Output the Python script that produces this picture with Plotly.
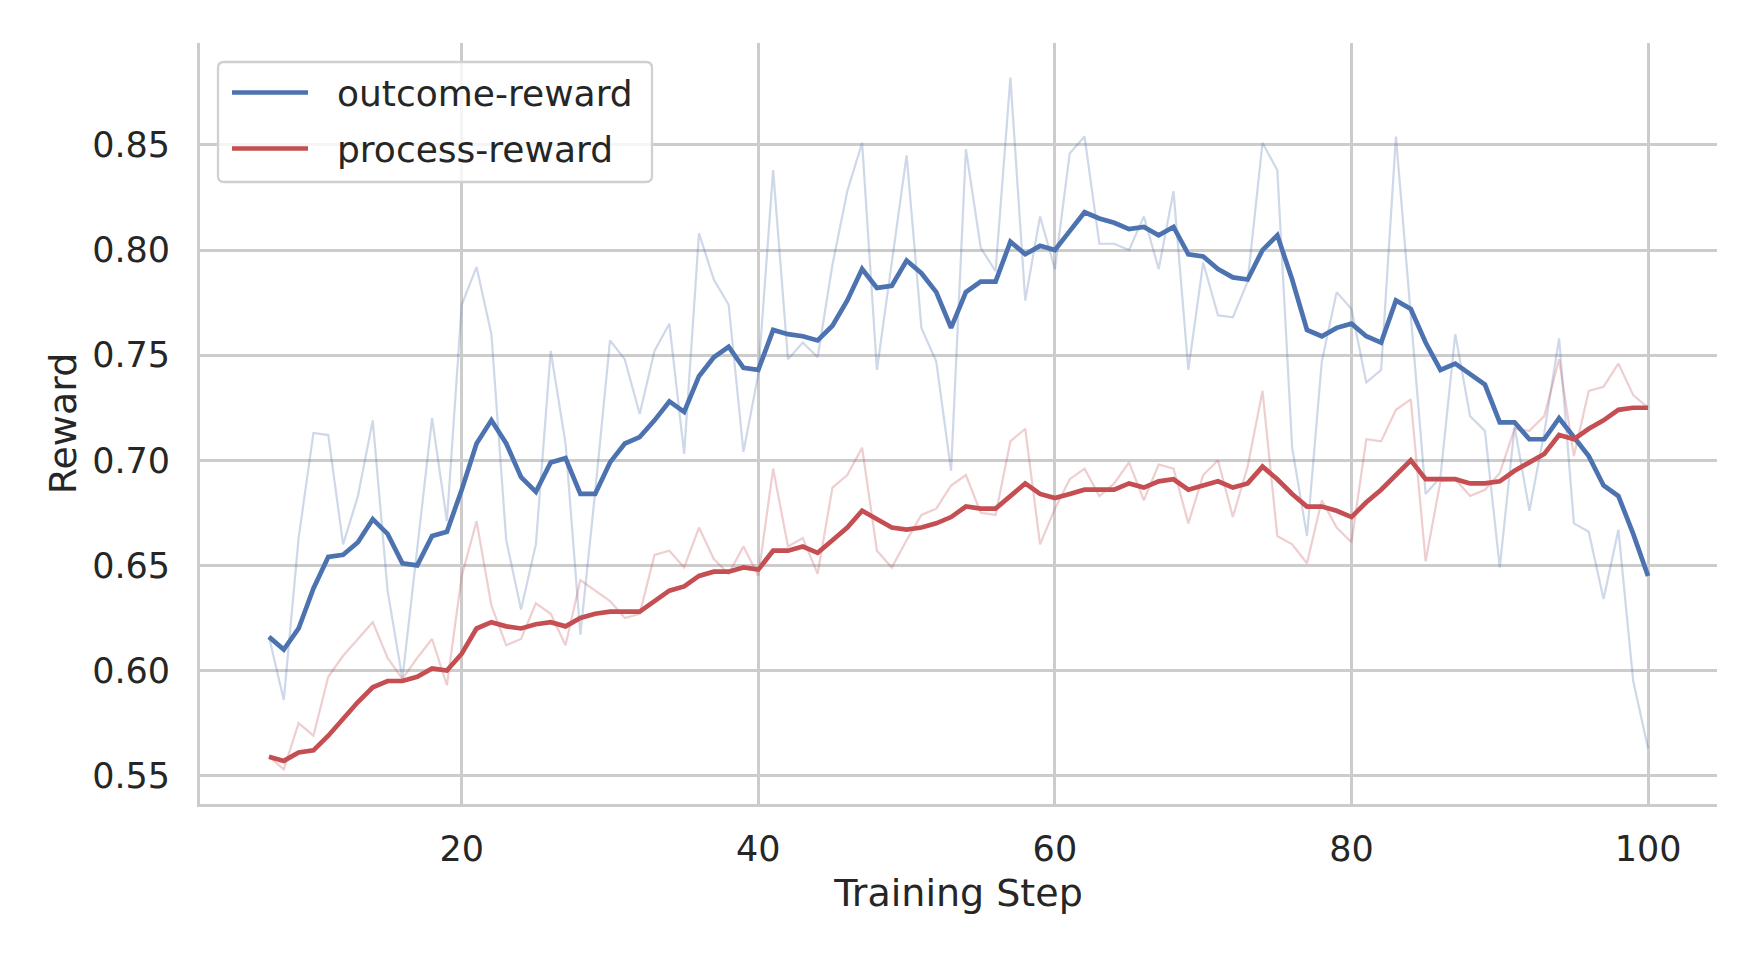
import plotly.graph_objects as go

steps = list(range(7, 101))

outcome_raw = [0.616, 0.586, 0.663, 0.713, 0.712, 0.660, 0.683, 0.719, 0.638, 0.596,
               0.658, 0.720, 0.671, 0.774, 0.792, 0.760, 0.662, 0.629, 0.660, 0.752,
               0.708, 0.617, 0.685, 0.757, 0.748, 0.722, 0.752, 0.765, 0.703, 0.808,
               0.786, 0.774, 0.704, 0.741, 0.838, 0.748, 0.756, 0.749, 0.793, 0.828,
               0.851, 0.743, 0.794, 0.845, 0.763, 0.747, 0.695, 0.848, 0.801, 0.790,
               0.882, 0.776, 0.816, 0.791, 0.846, 0.854, 0.803, 0.803, 0.800, 0.816,
               0.791, 0.828, 0.743, 0.794, 0.769, 0.768, 0.785, 0.851, 0.838, 0.706,
               0.664, 0.747, 0.780, 0.772, 0.737, 0.743, 0.854, 0.768, 0.684, 0.692,
               0.760, 0.721, 0.714, 0.649, 0.716, 0.676, 0.713, 0.758, 0.670, 0.666,
               0.634, 0.667, 0.595, 0.563]

outcome_smooth = [0.616, 0.610, 0.620, 0.639, 0.654, 0.655, 0.661, 0.672, 0.665, 0.651,
                  0.650, 0.664, 0.666, 0.686, 0.708, 0.719, 0.708, 0.692, 0.685, 0.699,
                  0.701, 0.684, 0.684, 0.699, 0.708, 0.711, 0.719, 0.728, 0.723, 0.740,
                  0.749, 0.754, 0.744, 0.743, 0.762, 0.760, 0.759, 0.757, 0.764, 0.776,
                  0.791, 0.782, 0.783, 0.795, 0.789, 0.780, 0.763, 0.780, 0.785, 0.785,
                  0.804, 0.798, 0.802, 0.800, 0.809, 0.818, 0.815, 0.813, 0.810, 0.811,
                  0.807, 0.811, 0.798, 0.797, 0.791, 0.787, 0.786, 0.800, 0.807, 0.786,
                  0.762, 0.759, 0.763, 0.765, 0.759, 0.756, 0.776, 0.772, 0.756, 0.743,
                  0.746, 0.741, 0.736, 0.718, 0.718, 0.710, 0.710, 0.720, 0.711, 0.702,
                  0.688, 0.683, 0.665, 0.645]

process_raw = [0.559, 0.553, 0.575, 0.569, 0.597, 0.607, 0.615, 0.623, 0.606, 0.596,
               0.606, 0.615, 0.593, 0.645, 0.671, 0.631, 0.612, 0.615, 0.632, 0.627,
               0.612, 0.643, 0.638, 0.633, 0.625, 0.627, 0.655, 0.657, 0.649, 0.668,
               0.653, 0.646, 0.659, 0.645, 0.696, 0.659, 0.663, 0.646, 0.687, 0.693,
               0.706, 0.657, 0.649, 0.662, 0.674, 0.677, 0.688, 0.693, 0.675, 0.674,
               0.709, 0.715, 0.660, 0.677, 0.691, 0.696, 0.683, 0.689, 0.699, 0.681,
               0.698, 0.696, 0.670, 0.693, 0.700, 0.673, 0.697, 0.733, 0.664, 0.660,
               0.651, 0.681, 0.668, 0.661, 0.710, 0.709, 0.724, 0.729, 0.652, 0.690,
               0.691, 0.683, 0.686, 0.694, 0.715, 0.714, 0.721, 0.748, 0.702, 0.733,
               0.735, 0.746, 0.731, 0.725]

process_smooth = [0.559, 0.557, 0.561, 0.562, 0.569, 0.577, 0.585, 0.592, 0.595, 0.595,
                  0.597, 0.601, 0.600, 0.608, 0.620, 0.623, 0.621, 0.620, 0.622, 0.623,
                  0.621, 0.625, 0.627, 0.628, 0.628, 0.628, 0.633, 0.638, 0.640, 0.645,
                  0.647, 0.647, 0.649, 0.648, 0.657, 0.657, 0.659, 0.656, 0.662, 0.668,
                  0.676, 0.672, 0.668, 0.667, 0.668, 0.670, 0.673, 0.678, 0.677, 0.677,
                  0.683, 0.689, 0.684, 0.682, 0.684, 0.686, 0.686, 0.686, 0.689, 0.687,
                  0.690, 0.691, 0.686, 0.688, 0.690, 0.687, 0.689, 0.697, 0.691, 0.684,
                  0.678, 0.678, 0.676, 0.673, 0.680, 0.686, 0.693, 0.700, 0.691, 0.691,
                  0.691, 0.689, 0.689, 0.690, 0.695, 0.699, 0.703, 0.712, 0.710, 0.715,
                  0.719, 0.724, 0.725, 0.725]

series_names = ["outcome-reward", "process-reward"]
x_ticks = [20, 40, 60, 80, 100]
y_ticks = [0.55, 0.60, 0.65, 0.70, 0.75, 0.80, 0.85]

BLUE = "#4C72B0"
RED = "#C44E52"
TXT = "#262626"
GRID = "#cccccc"
FONT = "DejaVu Sans"

W, H = 1760, 960
ML, MR, MT, MB = 200, 43, 43, 156
PW, PH = W - ML - MR, H - MT - MB


def px_x(v):
    return (v - ML) / PW


def px_y(v):
    return (H - MB - v) / PH


fig = go.Figure()
fig.add_trace(go.Scatter(x=steps, y=outcome_raw, mode="lines", showlegend=False,
                         line=dict(color=BLUE, width=2.2), opacity=0.27, hoverinfo="skip"))
fig.add_trace(go.Scatter(x=steps, y=process_raw, mode="lines", showlegend=False,
                         line=dict(color=RED, width=2.2), opacity=0.27, hoverinfo="skip"))
fig.add_trace(go.Scatter(x=steps, y=outcome_smooth, mode="lines", name=series_names[0],
                         showlegend=False, line=dict(color=BLUE, width=4.7)))
fig.add_trace(go.Scatter(x=steps, y=process_smooth, mode="lines", name=series_names[1],
                         showlegend=False, line=dict(color=RED, width=4.7)))

# custom legend (matplotlib-like box)
bx0, bx1, by0, by1 = 218, 652, 62, 182
r = 6
x0, x1 = px_x(bx0), px_x(bx1)
y0, y1 = px_y(by0), px_y(by1)
rx, ry = r / PW, r / PH
path = (f"M {x0 + rx},{y0} L {x1 - rx},{y0} Q {x1},{y0} {x1},{y0 - ry} "
        f"L {x1},{y1 + ry} Q {x1},{y1} {x1 - rx},{y1} "
        f"L {x0 + rx},{y1} Q {x0},{y1} {x0},{y1 + ry} "
        f"L {x0},{y0 - ry} Q {x0},{y0} {x0 + rx},{y0} Z")
shapes = [dict(type="path", path=path, xref="paper", yref="paper",
               fillcolor="rgba(255,255,255,0.8)", line=dict(color="#d0d0d0", width=2.3),
               layer="above")]
annotations = []
for name, color, yy in [(series_names[0], BLUE, 92.5), (series_names[1], RED, 148.5)]:
    shapes.append(dict(type="line", xref="paper", yref="paper",
                       x0=px_x(232), x1=px_x(308), y0=px_y(yy), y1=px_y(yy),
                       line=dict(color=color, width=4.4), layer="above"))
    annotations.append(dict(text=name, xref="paper", yref="paper", x=px_x(335), y=px_y(yy + 1),
                            xanchor="left", yanchor="middle", showarrow=False,
                            font=dict(family=FONT, size=36, color=TXT)))

fig.update_layout(
    width=W, height=H,
    margin=dict(l=ML, r=MR, t=MT, b=MB),
    paper_bgcolor="white", plot_bgcolor="white",
    font=dict(family=FONT, size=35, color=TXT),
    showlegend=False,
    shapes=shapes, annotations=annotations,
)
fig.update_xaxes(
    range=[2.35, 104.65], tickvals=x_ticks, ticktext=[str(v) for v in x_ticks],
    showgrid=True, gridcolor=GRID, gridwidth=2.5, zeroline=False,
    showline=True, linecolor=GRID, linewidth=2.8, ticks="",
    ticklabelstandoff=12,
    tickfont=dict(family=FONT, size=35, color=TXT),
    title=dict(text="Training Step", font=dict(family=FONT, size=38, color=TXT), standoff=12),
)
fig.update_yaxes(
    range=[0.5365, 0.8985], tickvals=y_ticks, ticktext=[f"{v:.2f}" for v in y_ticks],
    showgrid=True, gridcolor=GRID, gridwidth=2.5, zeroline=False,
    showline=True, linecolor=GRID, linewidth=2.8, ticks="",
    ticklabelstandoff=20,
    tickfont=dict(family=FONT, size=35, color=TXT),
    title=dict(text="Reward", font=dict(family=FONT, size=38, color=TXT), standoff=4),
)

fig.write_html("out.html")
